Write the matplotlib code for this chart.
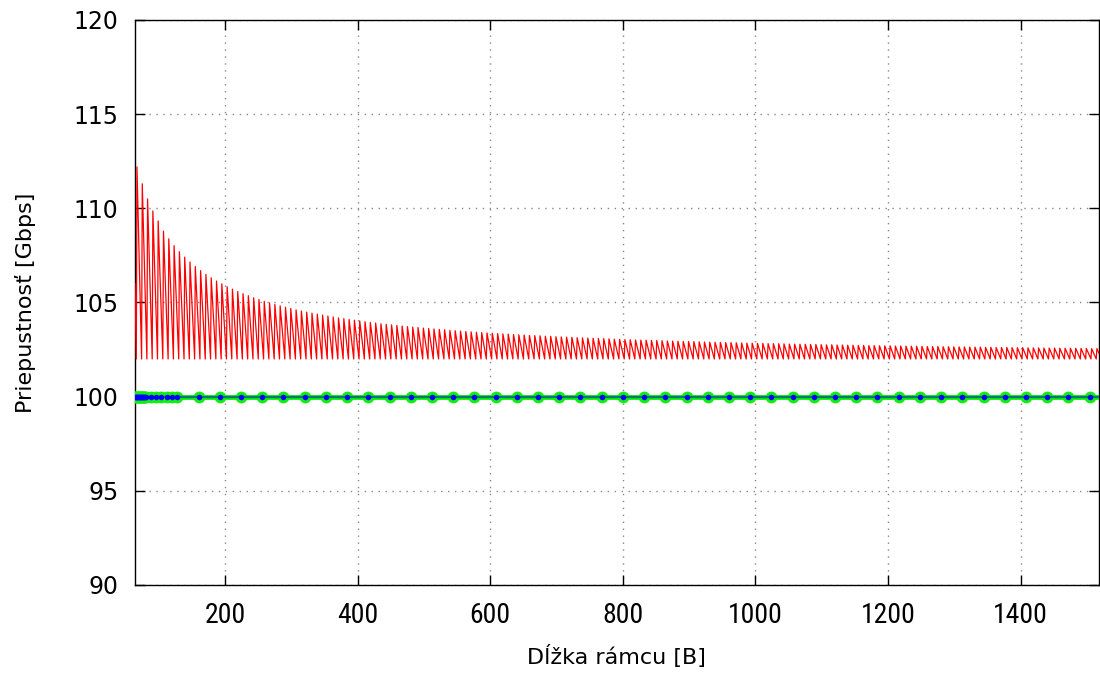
import numpy as np
import matplotlib
matplotlib.use("Agg")
import matplotlib.pyplot as plt
from matplotlib import font_manager

# ---- data ----
x_min, x_max = 64, 1518
y_min, y_max = 90, 120

# red sawtooth: trough value and the peak of each 8-byte tooth
trough_value = 102.0
value_at_64 = 106.0
peak_values = [
    112.2, 111.3, 110.5, 109.86, 109.33, 108.79, 108.38, 108.02, 107.70, 107.41,
    107.15, 106.91, 106.69, 106.49, 106.31, 106.14, 105.99, 105.84, 105.71, 105.58,
    105.47, 105.36, 105.25, 105.16, 105.06, 104.98, 104.90, 104.82, 104.75, 104.68,
    104.61, 104.55, 104.49, 104.43, 104.38, 104.33, 104.28, 104.23, 104.18, 104.14,
    104.10, 104.06, 104.02, 103.98, 103.94, 103.91, 103.87, 103.84, 103.81, 103.78,
    103.75, 103.72, 103.69, 103.67, 103.64, 103.62, 103.59, 103.57, 103.55, 103.52,
    103.50, 103.48, 103.46, 103.44, 103.42, 103.40, 103.38, 103.37, 103.35, 103.33,
    103.32, 103.30, 103.28, 103.27, 103.25, 103.24, 103.23, 103.21, 103.20, 103.18,
    103.17, 103.16, 103.15, 103.13, 103.12, 103.11, 103.10, 103.09, 103.08, 103.07,
    103.05, 103.04, 103.03, 103.02, 103.01, 103.00, 103.00, 102.99, 102.98, 102.97,
    102.96, 102.95, 102.94, 102.93, 102.93, 102.92, 102.91, 102.90, 102.89, 102.89,
    102.88, 102.87, 102.87, 102.86, 102.85, 102.84, 102.84, 102.83, 102.83, 102.82,
    102.81, 102.81, 102.80, 102.79, 102.79, 102.78, 102.78, 102.77, 102.77, 102.76,
    102.75, 102.75, 102.74, 102.74, 102.73, 102.73, 102.72, 102.72, 102.71, 102.71,
    102.70, 102.70, 102.70, 102.69, 102.69, 102.68, 102.68, 102.67, 102.67, 102.66,
    102.66, 102.66, 102.65, 102.65, 102.64, 102.64, 102.64, 102.63, 102.63, 102.63,
    102.62, 102.62, 102.61, 102.61, 102.61, 102.60, 102.60, 102.60, 102.59, 102.59,
    102.59, 102.58, 102.58, 102.58, 102.57, 102.57, 102.57, 102.57, 102.56, 102.56,
    102.55, 102.55,
]
first_trough = 66
period = 8

# green / blue series: sizes at which the points were measured
marker_sizes = (list(range(64, 81)) + list(range(88, 129, 8))
                + list(range(160, 1505, 32)))
marker_values = [100.0] * len(marker_sizes)
line_sizes = [64, 1518]
line_values = [100.0, 100.0]

x_ticks = [200, 400, 600, 800, 1000, 1200, 1400]
y_ticks = [90, 95, 100, 105, 110, 115, 120]

# ---- build sawtooth polyline ----
saw_x = [x_min]
saw_y = [value_at_64]
for k, pk in enumerate(peak_values):
    t = first_trough + k * period
    saw_x += [t, t + 1]
    saw_y += [trough_value, pk]
last_t = first_trough + len(peak_values) * period
saw_x.append(last_t)
saw_y.append(trough_value)

# narrow font for x tick labels if one exists
names = {f.name for f in font_manager.fontManager.ttflist}
narrow = [n for n in ["DejaVu Sans Condensed", "Liberation Sans Narrow",
                      "Roboto Condensed", "Open Sans Condensed"] if n in names]

fig = plt.figure(figsize=(11, 6.73), dpi=100)
ax = fig.add_axes([0.1227, 0.1308, 0.8763, 0.8395])

ax.plot(saw_x, saw_y, color="#ff0000", lw=0.9, zorder=3)

ax.plot(line_sizes, line_values, color="#00ee00", lw=3.4, zorder=4)
ax.plot(marker_sizes, marker_values, ls="none", marker="o", ms=8.5,
        mfc="#11ee11", mec="none", zorder=4)
ax.plot(line_sizes, line_values, color="#007a6a", lw=1.6, zorder=5)
ax.plot(marker_sizes, marker_values, ls="none", marker="o", ms=4,
        mfc="#0000ff", mec="none", zorder=6)

ax.set_xlim(x_min, x_max)
ax.set_ylim(y_min, y_max)
ax.set_xticks(x_ticks)
ax.set_yticks(y_ticks)
ax.grid(True, color="#888888", ls=(0, (1, 4)), lw=1.0)
ax.set_axisbelow(True)

ax.tick_params(direction="in", length=7, width=1, top=True, right=True,
               pad=12)
for lab in ax.get_yticklabels():
    lab.set_fontfamily("DejaVu Sans")
    lab.set_fontsize(17)
for lab in ax.get_xticklabels():
    if narrow:
        lab.set_fontfamily(narrow[0])
        lab.set_fontsize(20)
    else:
        lab.set_fontfamily("DejaVu Sans")
        lab.set_fontstretch("condensed")
        lab.set_fontsize(15)
for s in ax.spines.values():
    s.set_linewidth(1.0)

ax.set_xlabel("Dĺžka rámcu [B]", fontsize=16, family="DejaVu Sans",
              labelpad=12)
ax.set_ylabel("Priepustnosť [Gbps]", fontsize=16, family="DejaVu Sans",
              labelpad=27)

fig.savefig("out.png", dpi=100)
